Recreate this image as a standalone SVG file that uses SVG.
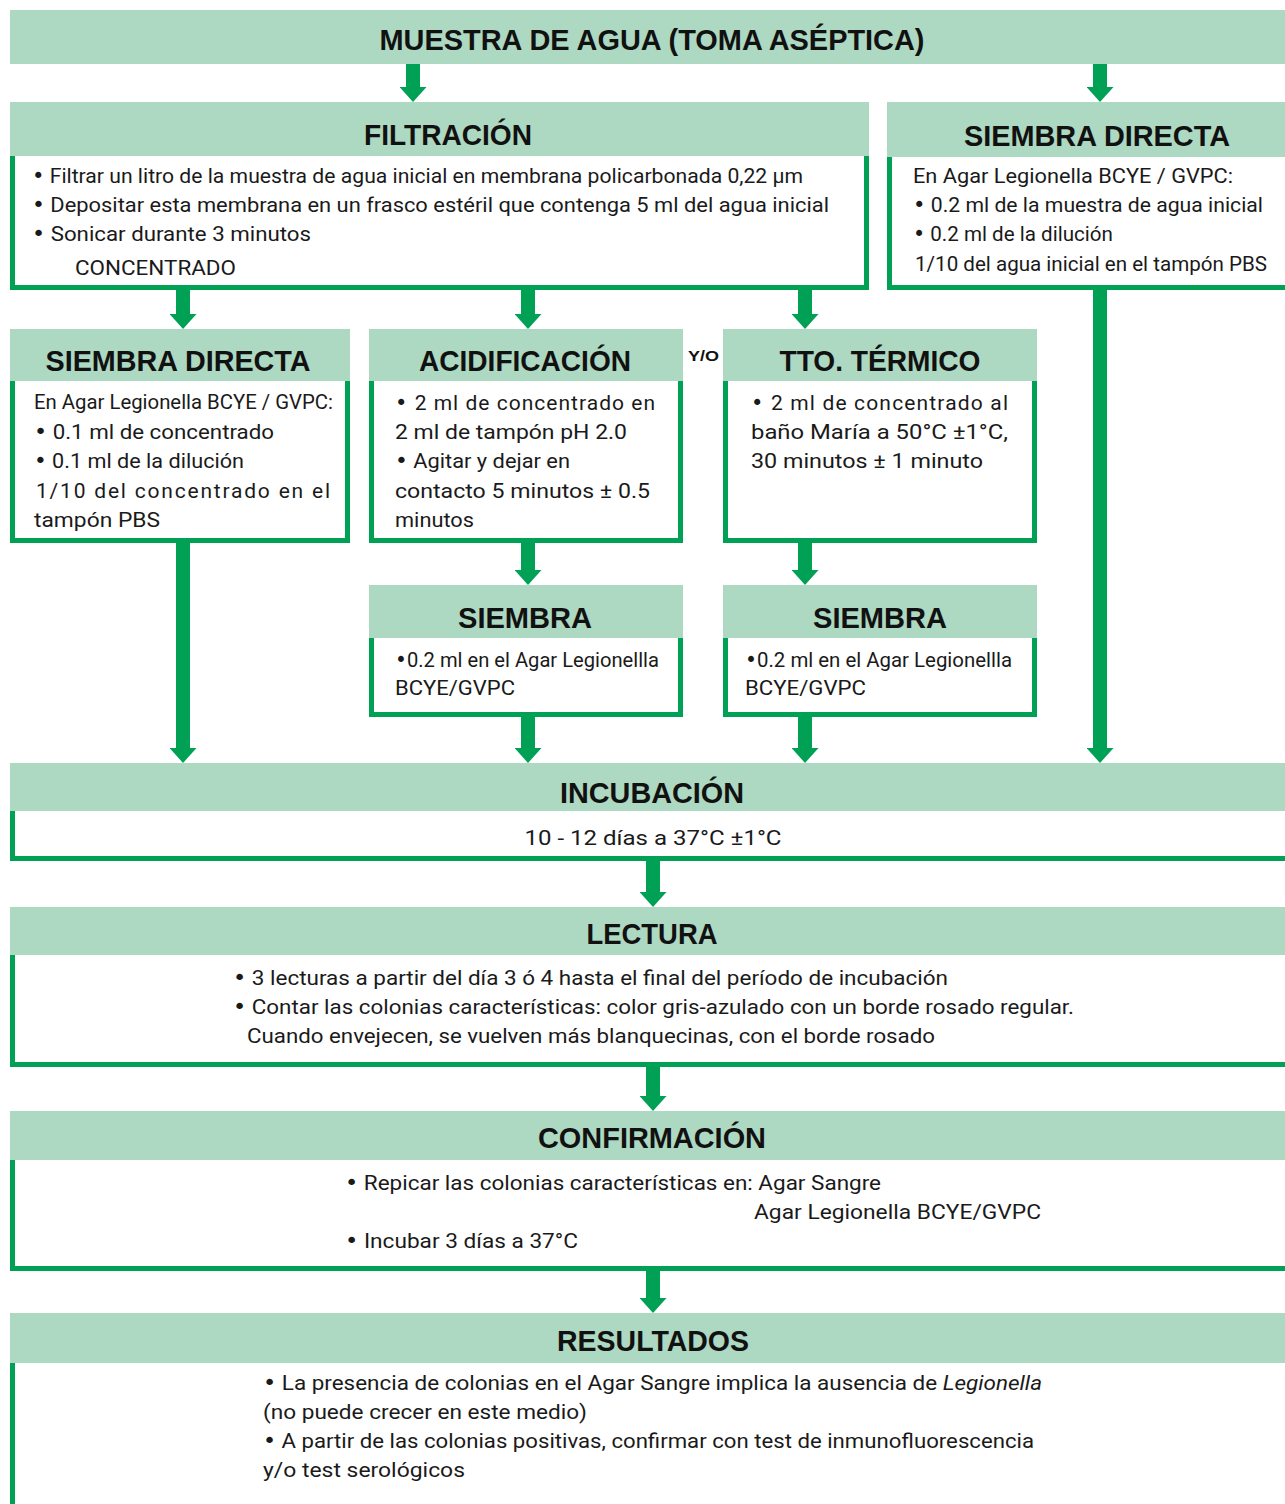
<svg xmlns="http://www.w3.org/2000/svg" width="1285" height="1504" viewBox="0 0 1285 1504">
<style>
.hd{fill:#add8c1}
.bd{fill:#fff;stroke:#00a055;stroke-width:5}
.t{font-family:"Liberation Sans",Arial,sans-serif;font-weight:bold;font-size:30px;fill:#111;text-anchor:middle}
.b{font-family:Roboto,"Liberation Sans",sans-serif;font-size:21px;fill:#1a1a1a}
.u{font-family:"DejaVu Sans",sans-serif}
.yo{font-family:"Liberation Sans",Arial,sans-serif;font-weight:bold;font-size:14px;fill:#111}
.ar{stroke:#00a055;stroke-width:14;fill:none;marker-end:url(#ah)}
</style>
<defs>
<marker id="ah" markerUnits="userSpaceOnUse" markerWidth="15" markerHeight="27" refX="0" refY="13.5" orient="auto" viewBox="0 0 15 27">
<path d="M0,0 L15,13.5 L0,27 Z" fill="#00a055"/>
</marker>
</defs>
<rect width="1285" height="1504" fill="#fff"/>

<g id="connectors">
<line class="ar" x1="413" y1="64" x2="413" y2="87"/>
<line class="ar" x1="1100" y1="64" x2="1100" y2="87"/>
<line class="ar" x1="183" y1="288" x2="183" y2="314"/>
<line class="ar" x1="528" y1="288" x2="528" y2="314"/>
<line class="ar" x1="805" y1="288" x2="805" y2="314"/>
<line class="ar" x1="528" y1="541" x2="528" y2="570"/>
<line class="ar" x1="805" y1="541" x2="805" y2="570"/>
<line class="ar" x1="183" y1="541" x2="183" y2="748"/>
<line class="ar" x1="528" y1="715" x2="528" y2="748"/>
<line class="ar" x1="805" y1="715" x2="805" y2="748"/>
<line class="ar" x1="1100" y1="288" x2="1100" y2="748"/>
<line class="ar" x1="653" y1="859" x2="653" y2="892"/>
<line class="ar" x1="653" y1="1065" x2="653" y2="1096"/>
<line class="ar" x1="653" y1="1269" x2="653" y2="1298"/>
</g>

<g id="muestra">
<rect class="hd" x="10" y="10" width="1290" height="54"/>
<text class="t" x="652" y="50" textLength="545" lengthAdjust="spacingAndGlyphs">MUESTRA DE AGUA (TOMA ASÉPTICA)</text>
</g>

<g id="filtracion">
<rect class="bd" x="12.5" y="150" width="854" height="137.5"/>
<rect class="hd" x="10" y="102" width="859" height="54"/>
<text class="t" x="448" y="145" textLength="168" lengthAdjust="spacingAndGlyphs">FILTRACIÓN</text>
<text class="b" x="32" y="183" textLength="771" lengthAdjust="spacingAndGlyphs"><tspan class="u">•</tspan> Filtrar un litro de la muestra de agua inicial en membrana policarbonada 0,22 µm</text>
<text class="b" x="32" y="212" textLength="797" lengthAdjust="spacingAndGlyphs"><tspan class="u">•</tspan> Depositar esta membrana en un frasco estéril que contenga 5 ml del agua inicial</text>
<text class="b" x="32" y="241" textLength="279" lengthAdjust="spacingAndGlyphs"><tspan class="u">•</tspan> Sonicar durante 3 minutos</text>
<text class="b" x="75" y="275" textLength="161" lengthAdjust="spacingAndGlyphs">CONCENTRADO</text>
</g>

<g id="siembra-directa-agua">
<rect class="bd" x="889.5" y="150" width="420" height="137.5"/>
<rect class="hd" x="887" y="102" width="413" height="55"/>
<text class="t" x="1097" y="146" textLength="266" lengthAdjust="spacingAndGlyphs">SIEMBRA DIRECTA</text>
<text class="b" x="913" y="183" textLength="320" lengthAdjust="spacingAndGlyphs">En Agar Legionella BCYE / GVPC:</text>
<text class="b" x="913" y="212" textLength="350" lengthAdjust="spacingAndGlyphs"><tspan class="u">•</tspan> 0.2 ml de la muestra de agua inicial</text>
<text class="b" x="913" y="241" textLength="200" lengthAdjust="spacingAndGlyphs"><tspan class="u">•</tspan> 0.2 ml de la dilución</text>
<text class="b" x="915" y="271" textLength="352" lengthAdjust="spacingAndGlyphs">1/10 del agua inicial en el tampón PBS</text>
</g>

<g id="siembra-directa-concentrado">
<rect class="bd" x="12.5" y="375" width="335" height="165.5"/>
<rect class="hd" x="10" y="329" width="340" height="52"/>
<text class="t" x="178" y="371" textLength="265" lengthAdjust="spacingAndGlyphs">SIEMBRA DIRECTA</text>
<text class="b" x="34" y="409" textLength="299" lengthAdjust="spacingAndGlyphs">En Agar Legionella BCYE / GVPC:</text>
<text class="b" x="34" y="439" textLength="240" lengthAdjust="spacingAndGlyphs"><tspan class="u">•</tspan> 0.1 ml de concentrado</text>
<text class="b" x="34" y="468" textLength="210" lengthAdjust="spacingAndGlyphs"><tspan class="u">•</tspan> 0.1 ml de la dilución</text>
<text class="b" x="36" y="498" textLength="294" lengthAdjust="spacing">1/10 del concentrado en el</text>
<text class="b" x="34" y="527" textLength="126" lengthAdjust="spacingAndGlyphs">tampón PBS</text>
</g>

<g id="acidificacion">
<rect class="bd" x="371.5" y="375" width="309" height="165.5"/>
<rect class="hd" x="369" y="329" width="314" height="52"/>
<text class="t" x="525" y="371" textLength="212" lengthAdjust="spacingAndGlyphs">ACIDIFICACIÓN</text>
<text class="b" x="395" y="410" textLength="260" lengthAdjust="spacing"><tspan class="u">•</tspan> 2 ml de concentrado en</text>
<text class="b" x="395" y="439" textLength="232" lengthAdjust="spacingAndGlyphs">2 ml de tampón pH 2.0</text>
<text class="b" x="395" y="468" textLength="175" lengthAdjust="spacingAndGlyphs"><tspan class="u">•</tspan> Agitar y dejar en</text>
<text class="b" x="395" y="498" textLength="255" lengthAdjust="spacingAndGlyphs">contacto 5 minutos ± 0.5</text>
<text class="b" x="395" y="527" textLength="79" lengthAdjust="spacingAndGlyphs">minutos</text>
</g>

<g id="y-o">
<text class="yo" x="688" y="361" textLength="31" lengthAdjust="spacingAndGlyphs">Y/O</text>
</g>

<g id="tto-termico">
<rect class="bd" x="725.5" y="375" width="309" height="165.5"/>
<rect class="hd" x="723" y="329" width="314" height="52"/>
<text class="t" x="880" y="371" textLength="201" lengthAdjust="spacingAndGlyphs">TTO. TÉRMICO</text>
<text class="b" x="751" y="410" textLength="257" lengthAdjust="spacing"><tspan class="u">•</tspan> 2 ml de concentrado al</text>
<text class="b" x="751" y="439" textLength="257" lengthAdjust="spacingAndGlyphs">baño María a 50°C ±1°C,</text>
<text class="b" x="751" y="468" textLength="232" lengthAdjust="spacingAndGlyphs">30 minutos ± 1 minuto</text>
</g>

<g id="siembra-acid">
<rect class="bd" x="371.5" y="632" width="309" height="82.5"/>
<rect class="hd" x="369" y="585" width="314" height="53"/>
<text class="t" x="525" y="628" textLength="134" lengthAdjust="spacingAndGlyphs">SIEMBRA</text>
<text class="b" x="395" y="667" textLength="264" lengthAdjust="spacingAndGlyphs"><tspan class="u">•</tspan>0.2 ml en el Agar Legionellla</text>
<text class="b" x="395" y="695" textLength="120" lengthAdjust="spacingAndGlyphs">BCYE/GVPC</text>
</g>

<g id="siembra-tto">
<rect class="bd" x="725.5" y="632" width="309" height="82.5"/>
<rect class="hd" x="723" y="585" width="314" height="53"/>
<text class="t" x="880" y="628" textLength="134" lengthAdjust="spacingAndGlyphs">SIEMBRA</text>
<text class="b" x="745" y="667" textLength="267" lengthAdjust="spacingAndGlyphs"><tspan class="u">•</tspan>0.2 ml en el Agar Legionellla</text>
<text class="b" x="745" y="695" textLength="121" lengthAdjust="spacingAndGlyphs">BCYE/GVPC</text>
</g>

<g id="incubacion">
<rect class="bd" x="12.5" y="805" width="1300" height="53.5"/>
<rect class="hd" x="10" y="763" width="1290" height="48"/>
<text class="t" x="652" y="803" textLength="184" lengthAdjust="spacingAndGlyphs">INCUBACIÓN</text>
<text class="b" x="653" y="845" text-anchor="middle" textLength="257" lengthAdjust="spacingAndGlyphs">10 - 12 días a 37°C ±1°C</text>
</g>

<g id="lectura">
<rect class="bd" x="12.5" y="950" width="1300" height="114.5"/>
<rect class="hd" x="10" y="907" width="1290" height="48"/>
<text class="t" x="652" y="944" textLength="131" lengthAdjust="spacingAndGlyphs">LECTURA</text>
<text class="b" x="233" y="985" textLength="715" lengthAdjust="spacingAndGlyphs"><tspan class="u">•</tspan> 3 lecturas a partir del día 3 ó 4 hasta el final del período de incubación</text>
<text class="b" x="233" y="1014" textLength="841" lengthAdjust="spacingAndGlyphs"><tspan class="u">•</tspan> Contar las colonias características: color gris-azulado con un borde rosado regular.</text>
<text class="b" x="247" y="1043" textLength="688" lengthAdjust="spacingAndGlyphs">Cuando envejecen, se vuelven más blanquecinas, con el borde rosado</text>
</g>

<g id="confirmacion">
<rect class="bd" x="12.5" y="1155" width="1300" height="113.5"/>
<rect class="hd" x="10" y="1111" width="1290" height="49"/>
<text class="t" x="652" y="1148" textLength="228" lengthAdjust="spacingAndGlyphs">CONFIRMACIÓN</text>
<text class="b" x="345" y="1190" textLength="536" lengthAdjust="spacingAndGlyphs"><tspan class="u">•</tspan> Repicar las colonias características en: Agar Sangre</text>
<text class="b" x="754" y="1219" textLength="287" lengthAdjust="spacingAndGlyphs">Agar Legionella BCYE/GVPC</text>
<text class="b" x="345" y="1248" textLength="233" lengthAdjust="spacingAndGlyphs"><tspan class="u">•</tspan> Incubar 3 días a 37°C</text>
</g>

<g id="resultados">
<rect class="bd" x="12.5" y="1358" width="1300" height="200"/>
<rect class="hd" x="10" y="1313" width="1290" height="50"/>
<text class="t" x="653" y="1351" textLength="192" lengthAdjust="spacingAndGlyphs">RESULTADOS</text>
<text class="b" x="263" y="1390" textLength="779" lengthAdjust="spacingAndGlyphs"><tspan class="u">•</tspan> La presencia de colonias en el Agar Sangre implica la ausencia de <tspan font-style="italic">Legionella</tspan></text>
<text class="b" x="263" y="1419" textLength="324" lengthAdjust="spacingAndGlyphs">(no puede crecer en este medio)</text>
<text class="b" x="263" y="1448" textLength="771" lengthAdjust="spacingAndGlyphs"><tspan class="u">•</tspan> A partir de las colonias positivas, confirmar con test de inmunofluorescencia</text>
<text class="b" x="263" y="1477" textLength="202" lengthAdjust="spacingAndGlyphs">y/o test serológicos</text>
</g>
</svg>
